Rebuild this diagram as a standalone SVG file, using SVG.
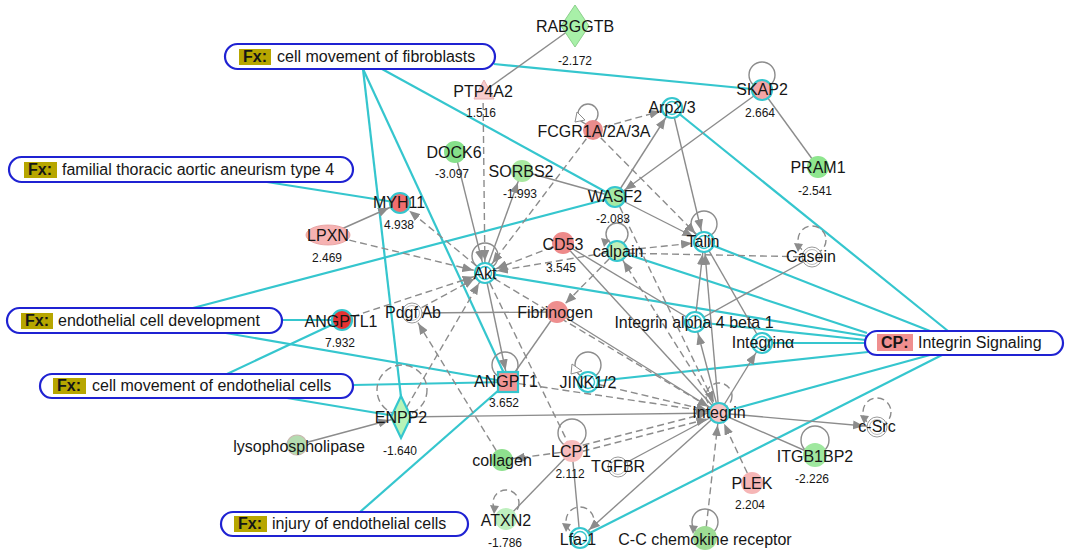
<svg xmlns="http://www.w3.org/2000/svg" width="1065" height="557" viewBox="0 0 1065 557">
  <style>
    .e{stroke:#8c8c8c;stroke-width:1.4;fill:none}
    .d{stroke-dasharray:7 4}
    .c{stroke:#35c6ce;stroke-width:2.2;fill:none}
    .loop{stroke:#8c8c8c;stroke-width:1.4;fill:none}
    .box{fill:#fff;stroke:#1f22d2;stroke-width:2.2}
    .tag{fill:#b7a600}
    .tagcp{fill:#ef8f8f}
    text{font-family:"Liberation Sans",Arial,sans-serif;fill:#161616}
    .lbl{font-size:16px;text-anchor:middle}
    .val{font-size:12px;text-anchor:middle}
    .bt{font-size:16px}
    .bb{font-size:16px;font-weight:bold}
    .ring{stroke:#35c6ce;stroke-width:2.2}
    .ring2{fill:#fff;stroke:#35c6ce;stroke-width:2.2}
    .ringin{fill:none;stroke:#35c6ce;stroke-width:1.4}
    .wo{fill:#fff;stroke:#9a9a9a;stroke-width:1}
    .wi{fill:none;stroke:#bdbdbd;stroke-width:1}
    .ah{fill:#8c8c8c}
    .oah{fill:#fff;stroke:#8c8c8c;stroke-width:1}
  </style>
  <defs>
    <!-- arrowhead whose tip stops just short of the target node's centre -->
    <marker id="arr" viewBox="0 0 11 9" refX="23" refY="4.5" markerWidth="11" markerHeight="9" markerUnits="userSpaceOnUse" orient="auto">
      <path d="M0,0 L11,4.5 L0,9 z" fill="#8c8c8c"/>
    </marker>
  </defs>
  <rect width="1065" height="557" fill="#fff"/>

  <!-- connectors -->
  <g id="connectors">
    <!-- function / pathway links -->
    <g class="c">
      <line x1="363" y1="69" x2="401" y2="397"/>
      <line x1="363" y1="69" x2="508" y2="382"/>
      <line x1="382" y1="69" x2="615" y2="197"/>
      <line x1="494" y1="64" x2="762" y2="90"/>
      <line x1="267" y1="182" x2="400" y2="203"/>
      <line x1="282" y1="320" x2="342" y2="320"/>
      <line x1="193" y1="308" x2="615" y2="197"/>
      <line x1="220" y1="332" x2="508" y2="382"/>
      <line x1="227" y1="374" x2="342" y2="320"/>
      <line x1="353" y1="385" x2="508" y2="382"/>
      <line x1="287" y1="398" x2="401" y2="417"/>
      <line x1="360" y1="512" x2="508" y2="382"/>
      <line x1="948" y1="331" x2="672" y2="108"/>
      <line x1="930" y1="331" x2="704" y2="242"/>
      <line x1="867" y1="333" x2="617" y2="251"/>
      <line x1="866" y1="336" x2="485" y2="273"/>
      <line x1="866" y1="340" x2="695" y2="322"/>
      <line x1="866" y1="343" x2="762" y2="343"/>
      <line x1="868" y1="352" x2="588" y2="382"/>
      <line x1="930" y1="355" x2="719" y2="413"/>
      <line x1="942" y1="355" x2="580" y2="538"/>
    </g>
    <!-- plain relations -->
    <g class="e">
      <line x1="575" y1="26" x2="483" y2="92"/>
      <line x1="522" y1="171" x2="615" y2="197"/>
      <line x1="762" y1="90" x2="818" y2="167"/>
      <line x1="695" y1="322" x2="812" y2="257"/>
      <line x1="412" y1="313" x2="557" y2="312"/>
      <line x1="557" y1="312" x2="508" y2="382"/>
      <line x1="401" y1="417" x2="719" y2="413"/>
      <line x1="572" y1="451" x2="506" y2="519"/>
      <line x1="572" y1="451" x2="580" y2="538"/>
      <line x1="618" y1="467" x2="719" y2="413"/>
      <line x1="719" y1="413" x2="815" y2="455"/>
      <line x1="704" y1="242" x2="762" y2="343"/>
      <line x1="563" y1="243" x2="719" y2="413"/>
      <line x1="563" y1="243" x2="695" y2="322"/>
      <line x1="557" y1="312" x2="719" y2="413"/>
    </g>
    <!-- directed relations -->
    <g class="e" marker-end="url(#arr)">
      <line x1="455" y1="152" x2="485" y2="273"/>
      <line x1="485" y1="273" x2="522" y2="171"/>
      <line x1="615" y1="197" x2="672" y2="108"/>
      <line x1="762" y1="90" x2="615" y2="197"/>
      <line x1="672" y1="108" x2="704" y2="242"/>
      <line x1="615" y1="197" x2="704" y2="242"/>
      <line x1="328" y1="235" x2="400" y2="203"/>
      <line x1="485" y1="273" x2="508" y2="382"/>
      <line x1="297" y1="445" x2="401" y2="417"/>
      <line x1="719" y1="413" x2="580" y2="538"/>
      <line x1="719" y1="413" x2="876" y2="427"/>
      <line x1="719" y1="413" x2="762" y2="343"/>
      <line x1="719" y1="413" x2="695" y2="322"/>
      <line x1="719" y1="413" x2="704" y2="242"/>
      <line x1="695" y1="322" x2="704" y2="242"/>
    </g>
    <g class="e d" marker-end="url(#arr)">
      <line x1="483" y1="92" x2="485" y2="273"/>
      <line x1="593" y1="130" x2="485" y2="273"/>
      <line x1="593" y1="130" x2="672" y2="108"/>
      <line x1="593" y1="130" x2="704" y2="242"/>
      <line x1="485" y1="273" x2="400" y2="203"/>
      <line x1="328" y1="235" x2="485" y2="273"/>
      <line x1="563" y1="243" x2="485" y2="273"/>
      <line x1="617" y1="251" x2="485" y2="273"/>
      <line x1="617" y1="251" x2="704" y2="242"/>
      <line x1="617" y1="251" x2="557" y2="312"/>
      <line x1="412" y1="313" x2="485" y2="273"/>
      <line x1="342" y1="320" x2="485" y2="273"/>
      <line x1="502" y1="460" x2="412" y2="313"/>
      <line x1="401" y1="417" x2="485" y2="273"/>
      <line x1="572" y1="451" x2="502" y2="460"/>
      <line x1="705" y1="538" x2="719" y2="413"/>
      <line x1="752" y1="483" x2="719" y2="413"/>
      <line x1="485" y1="273" x2="719" y2="413"/>
      <line x1="588" y1="382" x2="719" y2="413"/>
      <line x1="508" y1="382" x2="719" y2="413"/>
      <line x1="572" y1="448" x2="719" y2="410"/>
      <line x1="572" y1="454" x2="719" y2="416"/>
      <line x1="719" y1="413" x2="617" y2="251"/>
      <line x1="615" y1="197" x2="719" y2="413"/>
    </g>
    <g class="e d">
      <line x1="617" y1="253" x2="812" y2="257"/>
      <line x1="485" y1="273" x2="572" y2="451"/>
    </g>
    <!-- self relations -->
    <g class="loop">
      <circle cx="588" cy="114" r="10"/>
      <circle cx="762" cy="75" r="13"/>
      <circle cx="617" cy="234" r="11"/>
      <circle cx="704" cy="224" r="13"/>
      <circle cx="485" cy="256" r="13"/>
      <circle cx="505" cy="365" r="13"/>
      <circle cx="588" cy="365" r="13"/>
      <circle cx="815" cy="440" r="14"/>
      <circle cx="572" cy="433" r="14"/>
      <circle cx="705" cy="522" r="13"/>
    </g>
    <g class="loop d">
      <circle cx="812" cy="240" r="14"/>
      <circle cx="719" cy="396" r="13"/>
      <circle cx="877" cy="412" r="14"/>
      <circle cx="506" cy="503" r="13"/>
      <circle cx="580" cy="521" r="14"/>
      <circle cx="402" cy="390" r="25"/>
    </g>
    <polygon class="oah" points="577,112 585,120 575,122"/>
    <polygon class="oah" points="572,364 582,371 571,374"/>
    <polygon class="ah" points="601,238 610,240 604,247"/>
    <polygon class="ah" points="794,243 803,244 798,252"/>
    <polygon class="ah" points="860,415 869,416 864,424"/>
    <polygon class="ah" points="490,505 499,506 494,514"/>
    <polygon class="ah" points="562,523 571,524 566,532"/>
    <polygon class="ah" points="689,525 698,526 693,534"/>
  </g>

  <!-- function / pathway boxes -->
  <g id="fx-cell-movement-fibroblasts">
    <rect class="box" x="225" y="44" width="270" height="25" rx="12.5"/>
    <rect class="tag" x="239" y="49" width="32" height="16"/>
    <text class="bb" x="243" y="62">Fx:</text>
    <text class="bt" x="277" y="62">cell movement of fibroblasts</text>
  </g>
  <g id="fx-familial-taa">
    <rect class="box" x="9" y="157" width="344" height="25" rx="12.5"/>
    <rect class="tag" x="24" y="162" width="33" height="16"/>
    <text class="bb" x="28" y="175">Fx:</text>
    <text class="bt" x="62" y="175">familial thoracic aortic aneurism type 4</text>
  </g>
  <g id="fx-endothelial-development">
    <rect class="box" x="7" y="308" width="275" height="25" rx="12.5"/>
    <rect class="tag" x="21" y="313" width="32" height="16"/>
    <text class="bb" x="25" y="326">Fx:</text>
    <text class="bt" x="58" y="326">endothelial cell development</text>
  </g>
  <g id="fx-cell-movement-endothelial">
    <rect class="box" x="40" y="374" width="313" height="24" rx="12"/>
    <rect class="tag" x="53" y="378" width="33" height="16"/>
    <text class="bb" x="57" y="391">Fx:</text>
    <text class="bt" x="92" y="391">cell movement of endothelial cells</text>
  </g>
  <g id="fx-injury-endothelial">
    <rect class="box" x="221" y="512" width="247" height="24" rx="12"/>
    <rect class="tag" x="234" y="516" width="33" height="16"/>
    <text class="bb" x="238" y="529">Fx:</text>
    <text class="bt" x="272" y="529">injury of endothelial cells</text>
  </g>
  <g id="cp-integrin-signaling">
    <rect class="box" x="865" y="331" width="198" height="24" rx="12"/>
    <rect class="tagcp" x="877" y="334" width="36" height="17"/>
    <text class="bb" x="881" y="348">CP:</text>
    <text class="bt" x="918" y="348">Integrin Signaling</text>
  </g>

  <!-- molecules -->
  <g id="n-rabggtb">
    <polygon points="575,5 589,26 575,47 561,26" fill="#a8f0a8" stroke="#8cd08c" stroke-width="1"/>
    <text class="lbl" x="575" y="32">RABGGTB</text>
    <text class="val" x="575" y="65">-2.172</text>
  </g>
  <g id="n-ptp4a2">
    <polygon points="484,80 494,99 474,99" fill="#f8cccc" stroke="#e6b0b0" stroke-width="1"/>
    <text class="lbl" x="483" y="97">PTP4A2</text>
    <text class="val" x="481" y="117">1.516</text>
  </g>
  <g id="n-fcgr1a">
    <circle cx="593" cy="130" r="10" fill="#e98c8c"/>
    <text class="lbl" x="594" y="137">FCGR1A/2A/3A</text>
  </g>
  <g id="n-arp23">
    <circle class="ring2" cx="672" cy="108" r="10"/>
    <circle class="ringin" cx="672" cy="108" r="6.5"/>
    <text class="lbl" x="672" y="113">Arp2/3</text>
  </g>
  <g id="n-skap2">
    <circle class="ring" cx="762" cy="90" r="10" fill="#f4a6a6"/>
    <text class="lbl" x="762" y="95">SKAP2</text>
    <text class="val" x="760" y="117">2.664</text>
  </g>
  <g id="n-pram1">
    <circle cx="818" cy="167" r="11" fill="#8ee68e"/>
    <text class="lbl" x="818" y="173">PRAM1</text>
    <text class="val" x="815" y="195">-2.541</text>
  </g>
  <g id="n-dock6">
    <circle cx="455" cy="152" r="11" fill="#86e08a"/>
    <text class="lbl" x="454" y="158">DOCK6</text>
    <text class="val" x="452" y="178">-3.097</text>
  </g>
  <g id="n-sorbs2">
    <circle cx="522" cy="171" r="11" fill="#a8e8a0"/>
    <text class="lbl" x="521" y="177">SORBS2</text>
    <text class="val" x="520" y="198">-1.993</text>
  </g>
  <g id="n-wasf2">
    <circle class="ring" cx="615" cy="197" r="10" fill="#a4eaa4"/>
    <text class="lbl" x="615" y="202">WASF2</text>
    <text class="val" x="613" y="223">-2.083</text>
  </g>
  <g id="n-myh11">
    <circle class="ring" cx="400" cy="203" r="10" fill="#f06e6e"/>
    <text class="lbl" x="399" y="208">MYH11</text>
    <text class="val" x="399" y="229">4.938</text>
  </g>
  <g id="n-lpxn">
    <ellipse cx="328" cy="235" rx="22" ry="10" fill="#f6b2b2" stroke="#e39c9c" stroke-width="0.8"/>
    <text class="lbl" x="328" y="241">LPXN</text>
    <text class="val" x="327" y="262">2.469</text>
  </g>
  <g id="n-akt">
    <circle class="ring2" cx="485" cy="273" r="10"/>
    <circle class="ringin" cx="485" cy="273" r="6.5"/>
    <text class="lbl" x="485" y="279">Akt</text>
  </g>
  <g id="n-cd53">
    <circle cx="563" cy="243" r="11" fill="#ee8a8a"/>
    <text class="lbl" x="563" y="250">CD53</text>
    <text class="val" x="561" y="272">3.545</text>
  </g>
  <g id="n-calpain">
    <circle class="ring" cx="617" cy="251" r="10" fill="#c0f0b8"/>
    <text class="lbl" x="618" y="257">calpain</text>
  </g>
  <g id="n-talin">
    <circle class="ring2" cx="704" cy="242" r="10"/>
    <circle class="ringin" cx="704" cy="242" r="6.5"/>
    <text class="lbl" x="703" y="247">Talin</text>
  </g>
  <g id="n-casein">
    <circle class="wo" cx="812" cy="257" r="10"/>
    <circle class="wi" cx="812" cy="257" r="7.5"/>
    <text class="lbl" x="811" y="262">Casein</text>
  </g>
  <g id="n-pdgfab">
    <circle class="wo" cx="412" cy="313" r="10"/>
    <circle class="wi" cx="412" cy="313" r="7.5"/>
    <text class="lbl" x="413" y="318">Pdgf Ab</text>
  </g>
  <g id="n-fibrinogen">
    <circle cx="557" cy="312" r="11" fill="#ee8e8e"/>
    <text class="lbl" x="555" y="318">Fibrinogen</text>
  </g>
  <g id="n-angptl1">
    <circle class="ring" cx="342" cy="320" r="10" fill="#e63232"/>
    <text class="lbl" x="341" y="327">ANGPTL1</text>
    <text class="val" x="340" y="347">7.932</text>
  </g>
  <g id="n-itga4b1">
    <circle class="ring2" cx="695" cy="322" r="10"/>
    <circle class="ringin" cx="695" cy="322" r="6.5"/>
    <text class="lbl" x="694" y="328">Integrin alpha 4 beta 1</text>
  </g>
  <g id="n-integrin-alpha">
    <circle class="ring2" cx="762" cy="343" r="10"/>
    <circle class="ringin" cx="762" cy="343" r="6.5"/>
    <text class="lbl" x="763" y="348">Integrinα</text>
  </g>
  <g id="n-angpt1">
    <rect class="ring" x="498" y="372" width="20" height="20" fill="#f29494"/>
    <text class="lbl" x="506" y="387">ANGPT1</text>
    <text class="val" x="504" y="407">3.652</text>
  </g>
  <g id="n-jink12">
    <circle class="ring2" cx="588" cy="382" r="10"/>
    <circle class="ringin" cx="588" cy="382" r="6.5"/>
    <text class="lbl" x="588" y="388">JINK1/2</text>
  </g>
  <g id="n-integrin">
    <circle class="ring" cx="719" cy="413" r="10" fill="#f8c4c4"/>
    <text class="lbl" x="719" y="418">Integrin</text>
  </g>
  <g id="n-csrc">
    <circle class="wo" cx="877" cy="427" r="10"/>
    <circle class="wi" cx="877" cy="427" r="7.5"/>
    <text class="lbl" x="877" y="432">c-Src</text>
  </g>
  <g id="n-itgb1bp2">
    <circle cx="815" cy="455" r="12" fill="#9fe89f"/>
    <text class="lbl" x="815" y="462">ITGB1BP2</text>
    <text class="val" x="812" y="483">-2.226</text>
  </g>
  <g id="n-plek">
    <circle cx="752" cy="483" r="11" fill="#f6b6b6"/>
    <text class="lbl" x="752" y="489">PLEK</text>
    <text class="val" x="750" y="509">2.204</text>
  </g>
  <g id="n-enpp2">
    <polygon class="ring" points="401,396 411,417 401,438 391,417" fill="#b8f4b8"/>
    <text class="lbl" x="401" y="423">ENPP2</text>
    <text class="val" x="400" y="455">-1.640</text>
  </g>
  <g id="n-lysophospholipase">
    <circle cx="297" cy="445" r="10" fill="#b4dcb0" stroke="#c9b9b0" stroke-width="1.2"/>
    <text class="lbl" x="299" y="452">lysophospholipase</text>
  </g>
  <g id="n-collagen">
    <circle cx="502" cy="460" r="11" fill="#8ee08e"/>
    <text class="lbl" x="502" y="466">collagen</text>
  </g>
  <g id="n-lcp1">
    <circle cx="572" cy="451" r="11" fill="#f8bcbc"/>
    <text class="lbl" x="571" y="457">LCP1</text>
    <text class="val" x="570" y="478">2.112</text>
  </g>
  <g id="n-tgfbr">
    <circle class="wo" cx="618" cy="467" r="10"/>
    <circle class="wi" cx="618" cy="467" r="7.5"/>
    <text class="lbl" x="618" y="472">TGFBR</text>
  </g>
  <g id="n-atxn2">
    <circle cx="506" cy="519" r="11" fill="#bff0bf"/>
    <text class="lbl" x="506" y="526">ATXN2</text>
    <text class="val" x="505" y="547">-1.786</text>
  </g>
  <g id="n-lfa1">
    <circle class="ring2" cx="580" cy="538" r="10"/>
    <circle class="ringin" cx="580" cy="538" r="6.5"/>
    <text class="lbl" x="578" y="545">Lfa-1</text>
  </g>
  <g id="n-cc-chemokine-receptor">
    <circle cx="705" cy="538" r="12" fill="#9edc94"/>
    <text class="lbl" x="705" y="545">C-C chemokine receptor</text>
  </g>
</svg>
